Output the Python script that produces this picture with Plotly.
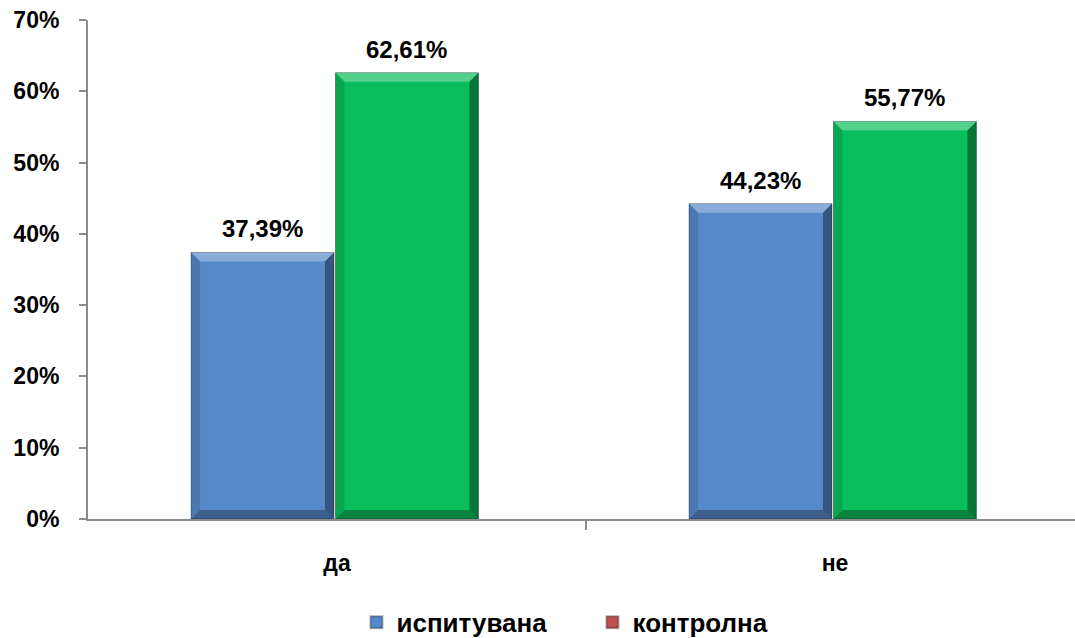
import plotly.graph_objects as go

categories = ["да", "не"]
series_names = ["испитувана", "контролна"]
ispituvana = [37.39, 44.23]
kontrolna = [62.61, 55.77]
y_ticks = [0, 10, 20, 30, 40, 50, 60, 70]

BLUE = "#5689C9"
GREEN = "#08BE5B"
LEGEND_COLORS = [BLUE, "#C0504D"]
FONT = "Arial, 'Liberation Sans', sans-serif"

# plot geometry (pixels) used to convert bevel thickness into data units
W, H = 1075, 638
M_L, M_R, M_T, M_B = 88, 0, 20, 119
X_RANGE = [-0.5, 1.482]
Y_RANGE = [0, 70]
px_x = (W - M_L - M_R) / (X_RANGE[1] - X_RANGE[0])
px_y = (H - M_T - M_B) / (Y_RANGE[1] - Y_RANGE[0])

bar_w = 0.287
offsets = [-0.293, -0.003]
xs = list(range(len(categories)))

fig = go.Figure()
annotations = []
for vals, color, off in [(ispituvana, BLUE, offsets[0]), (kontrolna, GREEN, offsets[1])]:
    fig.add_trace(go.Bar(
        x=xs, y=vals, width=bar_w, offset=off,
        marker=dict(color=color, line=dict(color="rgba(0,0,0,0.35)", width=1)),
        showlegend=False, hoverinfo="y",
    ))
    # value labels above each bar
    for xi, v in zip(xs, vals):
        annotations.append(dict(
            x=xi + off + bar_w / 2, y=v, xref="x", yref="y",
            text="<b>" + f"{v:.2f}".replace(".", ",") + "%</b>",
            showarrow=False, yanchor="bottom", yshift=8,
            font=dict(family=FONT, size=24, color="#000000"),
        ))

# bevelled edges on every bar
dx = 9 / px_x
dy = 9 / px_y
shapes = []
for vals, off in [(ispituvana, offsets[0]), (kontrolna, offsets[1])]:
    for xi, v in zip(xs, vals):
        x0, x1 = xi + off, xi + off + bar_w
        y0, y1 = 0, v
        faces = [
            ([(x0, y1), (x1, y1), (x1 - dx, y1 - dy), (x0 + dx, y1 - dy)], "rgba(255,255,255,0.30)"),
            ([(x1, y1), (x1, y0), (x1 - dx, y0 + dy), (x1 - dx, y1 - dy)], "rgba(0,0,0,0.38)"),
            ([(x0, y0), (x1, y0), (x1 - dx, y0 + dy), (x0 + dx, y0 + dy)], "rgba(0,0,0,0.30)"),
            ([(x0, y0), (x0, y1), (x0 + dx, y1 - dy), (x0 + dx, y0 + dy)], "rgba(0,0,0,0.12)"),
        ]
        for pts, fill in faces:
            path = "M " + " L ".join(f"{px},{py}" for px, py in pts) + " Z"
            shapes.append(dict(type="path", path=path, xref="x", yref="y",
                               fillcolor=fill, line=dict(width=0), layer="above"))

# legend entries
for name, color in zip(series_names, LEGEND_COLORS):
    fig.add_trace(go.Scatter(
        x=[None], y=[None], mode="markers", name=f"<b>{name}</b>",
        marker=dict(symbol="square", size=14, color=color,
                    line=dict(color="rgba(0,0,0,0.3)", width=1)),
    ))

fig.update_layout(
    width=W, height=H,
    margin=dict(l=M_L, r=M_R, t=M_T, b=M_B, autoexpand=False),
    paper_bgcolor="white", plot_bgcolor="white",
    font=dict(family=FONT, size=23, color="#000000"),
    shapes=shapes,
    annotations=annotations,
    legend=dict(orientation="h", x=0.272, xanchor="left", y=-0.16, yanchor="top",
                font=dict(family=FONT, size=26, color="#000000"),
                entrywidth=191, entrywidthmode="pixels",
                itemsizing="constant", itemwidth=30, tracegroupgap=0),
    xaxis=dict(
        range=X_RANGE, tickvals=xs, ticktext=[f"<b>{c}</b>" for c in categories],
        ticks="", showgrid=False, zeroline=False, automargin=False,
        showline=True, linecolor="#8C8C8C", linewidth=2,
        ticklabelstandoff=22, tickfont=dict(size=23),
        minor=dict(tickvals=[0.5], ticks="outside", ticklen=9,
                   tickcolor="#8C8C8C", tickwidth=2, showgrid=False),
    ),
    yaxis=dict(
        range=Y_RANGE, tickvals=y_ticks,
        ticktext=[f"<b>{t}%</b>" for t in y_ticks],
        ticks="outside", ticklen=7, tickcolor="#8C8C8C", tickwidth=2,
        showgrid=False, zeroline=False, automargin=False,
        showline=True, linecolor="#8C8C8C", linewidth=2,
        ticklabelstandoff=15, tickfont=dict(size=23),
    ),
)

fig.write_html("out.html")
